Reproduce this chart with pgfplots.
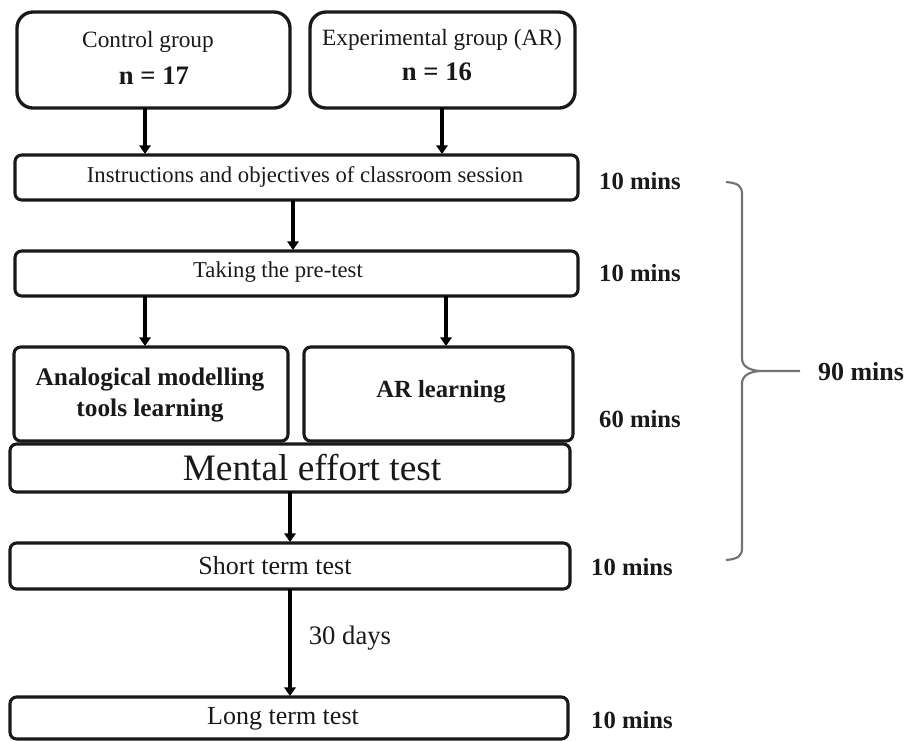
\documentclass[border=0pt]{standalone}
\usepackage{fontspec}
\setmainfont{Liberation Serif}
\usepackage{pgfplots}
\pgfplotsset{compat=1.18}
\usetikzlibrary{arrows.meta}
\newcommand{\fs}[1]{\fontsize{#1}{#1}\selectfont}
\begin{document}
\begin{tikzpicture}
\begin{axis}[
  scale only axis, width=681.75pt, height=555pt,
  xmin=0, xmax=909, ymin=0, ymax=740, y dir=reverse,
  hide axis, clip=false,
]
\path (axis cs:0,0) rectangle (axis cs:909,740);
\tikzset{box/.style={draw=black!90, line width=2.3pt, rounded corners=5pt},
         bigbox/.style={draw=black!90, line width=2.5pt, rounded corners=12pt},
         arr/.style={line width=2.8pt, -{Triangle[length=6.5pt,width=8.5pt]}},
         txt/.style={inner sep=0pt, anchor=center, text=black!90}}
% group boxes
\draw[bigbox] (axis cs:17,12) rectangle (axis cs:290,108);
\draw[bigbox] (axis cs:310,12) rectangle (axis cs:575,108);
\node[txt] at (axis cs:148,42) {\fs{17.5}Control group};
\node[txt] at (axis cs:154,76) {\fs{20}\bfseries n = 17};
\node[txt] at (axis cs:442,40) {\fs{17.5}Experimental group (AR)};
\node[txt] at (axis cs:437,72) {\fs{20}\bfseries n = 16};
\draw[arr] (axis cs:145,108) -- (axis cs:145,154);
\draw[arr] (axis cs:442,108) -- (axis cs:442,154);
% instructions
\draw[box] (axis cs:15,155) rectangle (axis cs:578,200);
\node[txt] at (axis cs:305,177) {\fs{17}Instructions and objectives of classroom session};
\draw[arr] (axis cs:293,200) -- (axis cs:293,250);
% pre-test
\draw[box] (axis cs:15,251) rectangle (axis cs:578,296);
\node[txt] at (axis cs:278,272) {\fs{17}Taking the pre-test};
\draw[arr] (axis cs:145,296) -- (axis cs:145,346);
\draw[arr] (axis cs:446,296) -- (axis cs:446,346);
% learning
\draw[box] (axis cs:14,347) rectangle (axis cs:288,441);
\draw[box] (axis cs:304,347) rectangle (axis cs:573,441);
\node[txt, align=center] at (axis cs:150,395) {\fs{19}\bfseries Analogical modelling\\[5pt]\fs{19}\bfseries tools learning};
\node[txt] at (axis cs:441,392) {\fs{18.5}\bfseries AR learning};
% mental effort
\draw[box] (axis cs:10,444) rectangle (axis cs:570,492);
\node[txt] at (axis cs:312,468) {\fs{28}Mental effort test};
\draw[arr] (axis cs:290,492) -- (axis cs:290,542);
% short term
\draw[box] (axis cs:10,543) rectangle (axis cs:570,589);
\node[txt] at (axis cs:275,566) {\fs{19.5}Short term test};
\draw[arr] (axis cs:290,589) -- (axis cs:290,696);
\node[txt] at (axis cs:350,638) {\fs{20}30 days};
% long term
\draw[box] (axis cs:10,697) rectangle (axis cs:568,739);
\node[txt] at (axis cs:283,719) {\fs{19.5}Long term test};
% times
\node[txt] at (axis cs:640,181) {\fs{18.5}\bfseries 10 mins};
\node[txt] at (axis cs:640,273) {\fs{18.5}\bfseries 10 mins};
\node[txt] at (axis cs:640,419) {\fs{18.5}\bfseries 60 mins};
\node[txt] at (axis cs:632,567) {\fs{18.5}\bfseries 10 mins};
\node[txt] at (axis cs:632,720) {\fs{18.5}\bfseries 10 mins};
\node[txt] at (axis cs:861,372) {\fs{19.5}\bfseries 90 mins};
% brace
\draw[black!55, line width=1.6pt]
  (axis cs:726,182) .. controls (axis cs:738,183) and (axis cs:742,186) .. (axis cs:742,194)
  -- (axis cs:742,358)
  .. controls (axis cs:742,366) and (axis cs:748,370) .. (axis cs:760,371)
  -- (axis cs:800,371);
\draw[black!55, line width=1.6pt]
  (axis cs:760,371) .. controls (axis cs:748,372) and (axis cs:742,376) .. (axis cs:742,384)
  -- (axis cs:742,548)
  .. controls (axis cs:742,556) and (axis cs:738,559) .. (axis cs:726,560);
\end{axis}
\end{tikzpicture}
\end{document}
